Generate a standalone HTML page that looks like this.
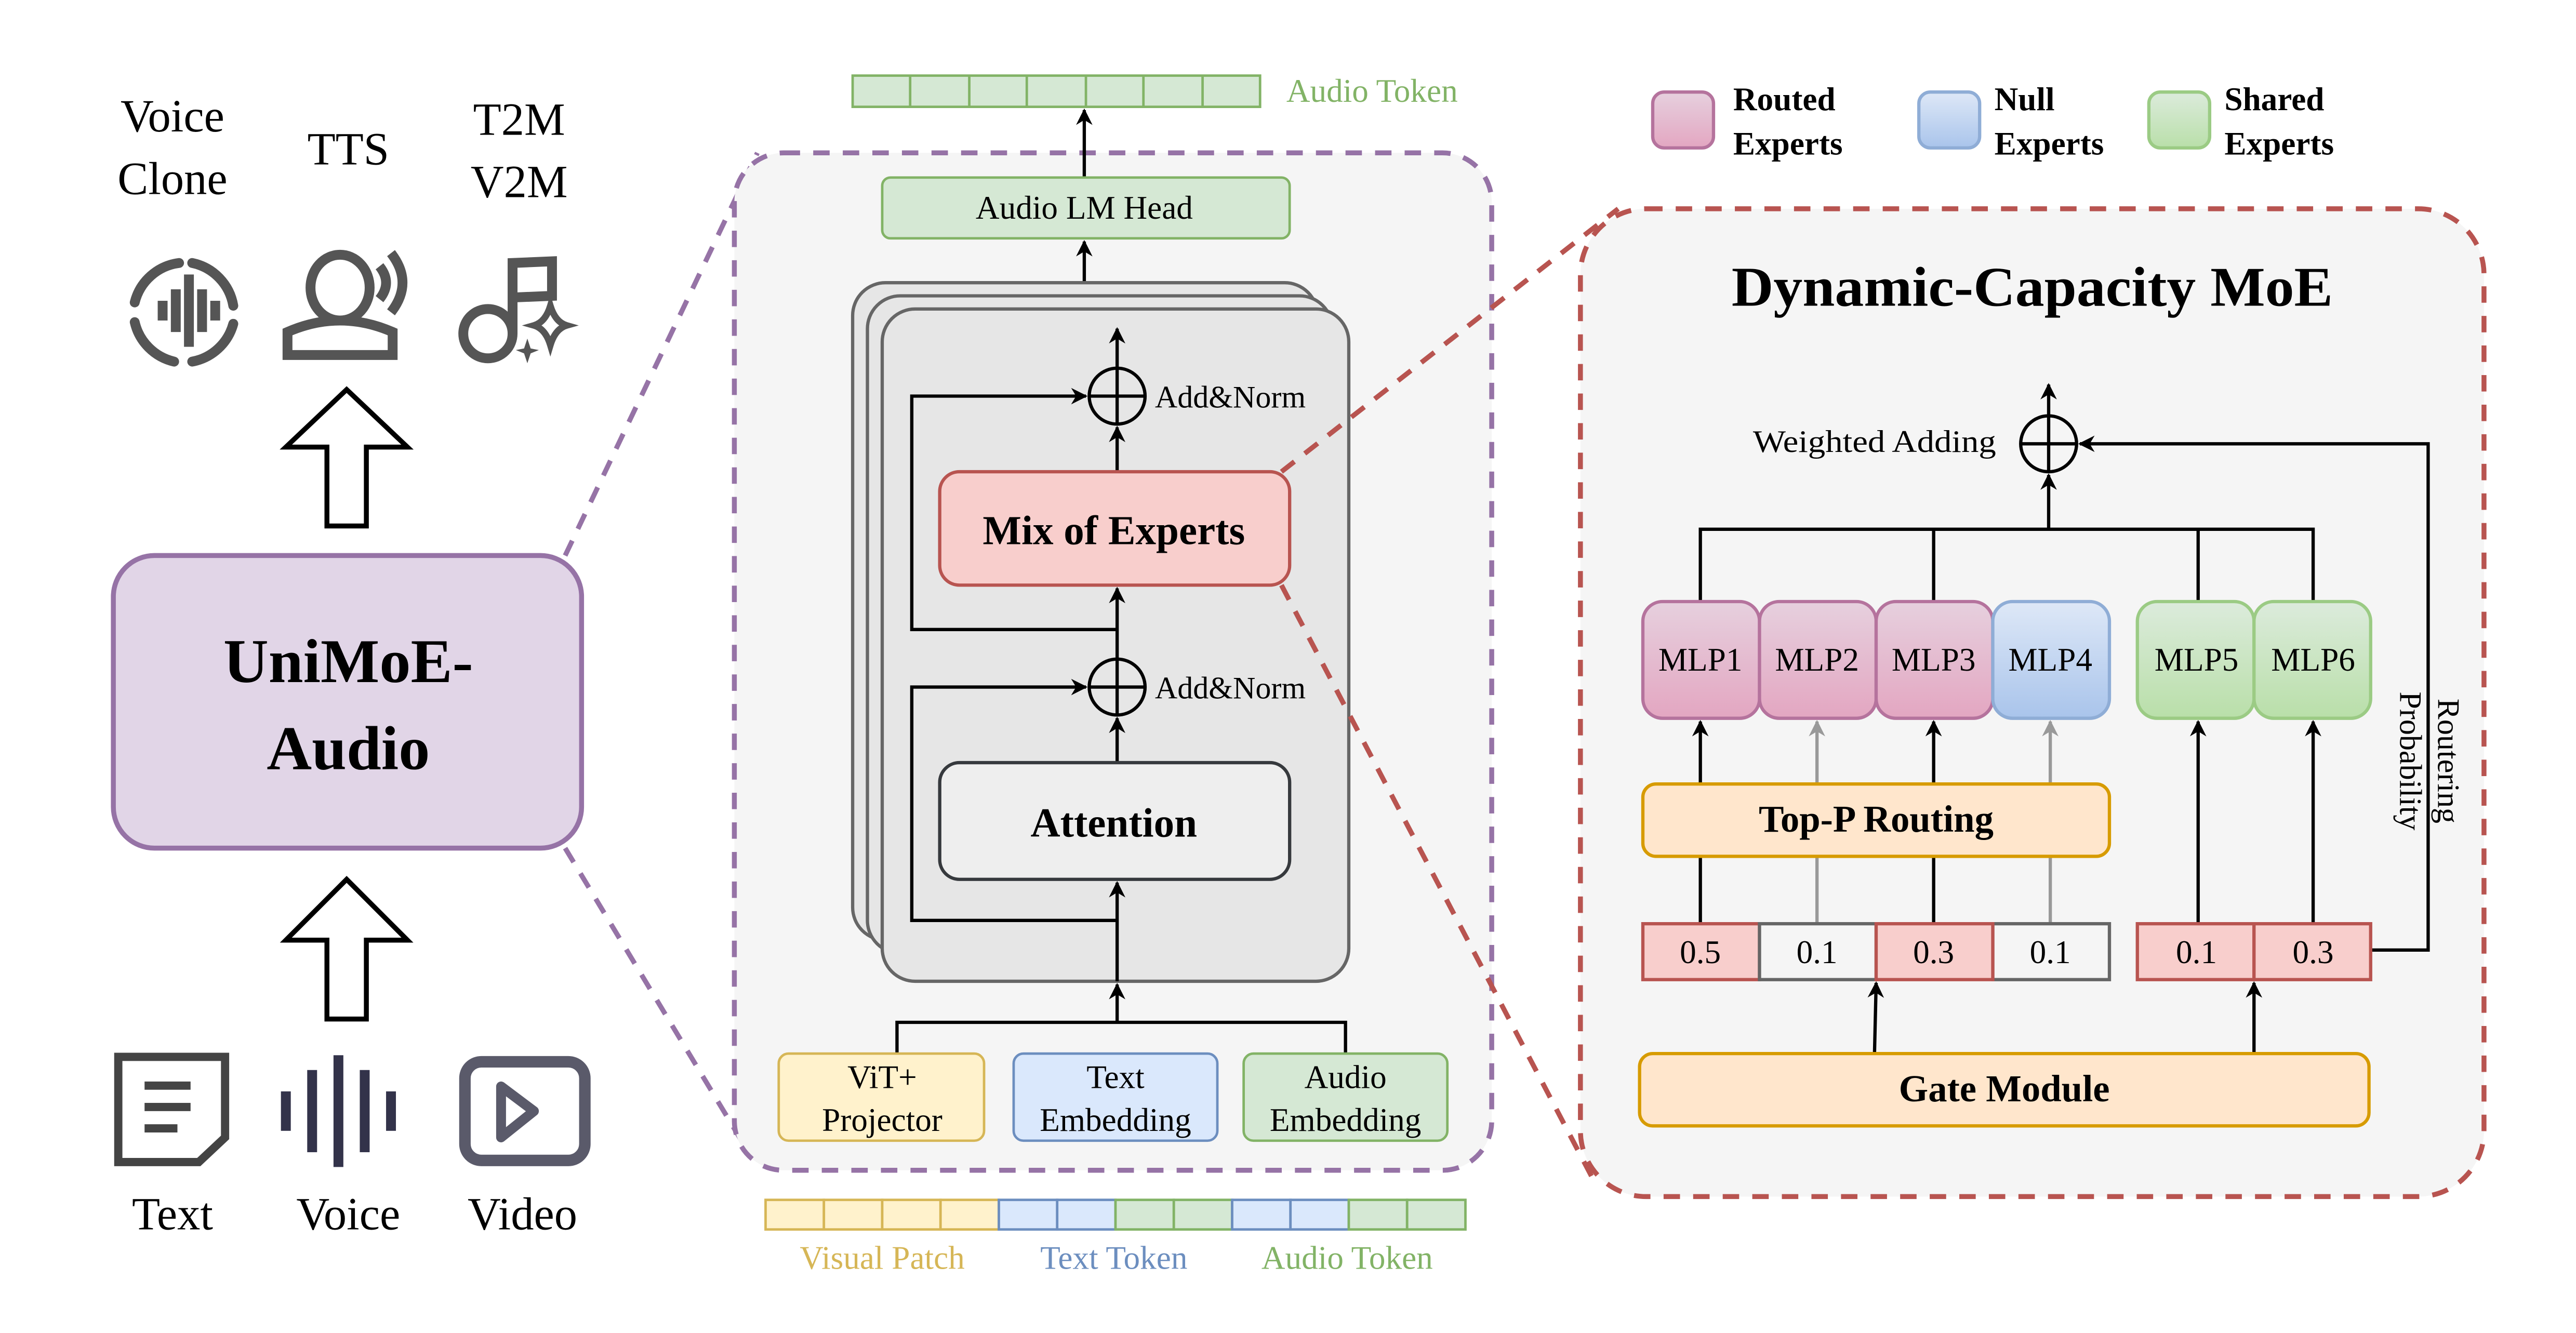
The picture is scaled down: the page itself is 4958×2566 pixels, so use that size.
<!DOCTYPE html>
<html><head><meta charset="utf-8"><style>html,body{margin:0;padding:0;background:#fff}svg{display:block}svg text{font-family:"Liberation Serif","Times New Roman",serif}</style></head>
<body>
<svg xmlns="http://www.w3.org/2000/svg" width="4958" height="2566" viewBox="0 0 1568 811" preserveAspectRatio="none">
<defs>
<marker id="a" markerWidth="10" markerHeight="10" refX="9" refY="5" orient="auto" markerUnits="userSpaceOnUse"><path d="M0,0 L10,5 L0,10 L3,5 z" fill="#000"/></marker>
<marker id="g" markerWidth="10" markerHeight="10" refX="9" refY="5" orient="auto" markerUnits="userSpaceOnUse"><path d="M0,0 L10,5 L0,10 L3,5 z" fill="#999"/></marker>
<linearGradient id="pk" x1="0" y1="0" x2="0" y2="1"><stop offset="0" stop-color="#e6d0de"/><stop offset="1" stop-color="#e3a6c1"/></linearGradient>
<linearGradient id="bl" x1="0" y1="0" x2="0" y2="1"><stop offset="0" stop-color="#dee8f7"/><stop offset="1" stop-color="#a9c4eb"/></linearGradient>
<linearGradient id="gr" x1="0" y1="0" x2="0" y2="1"><stop offset="0" stop-color="#dcebdc"/><stop offset="1" stop-color="#b9dfa9"/></linearGradient>
</defs>
<rect width="1568" height="811" fill="#fff"/>

<g font-size="28" text-anchor="middle" fill="#000">
<text x="105" y="80">Voice</text><text x="105" y="118">Clone</text>
<text x="212" y="100">TTS</text>
<text x="316" y="82">T2M</text><text x="316" y="120">V2M</text>
<text x="105" y="748">Text</text><text x="212" y="748">Voice</text><text x="318" y="748">Video</text>
</g>
<g fill="none" stroke="#555" stroke-width="6" stroke-linecap="round">
<path d="M109,160 A32,32 0 0 0 82,184"/><path d="M117,160 A32,32 0 0 1 142,186"/>
<path d="M82,196 A32,32 0 0 0 106,220"/><path d="M117,220 A32,32 0 0 0 142,197"/>
</g>
<g fill="#555"><rect x="96" y="183" width="6" height="12"/><rect x="104" y="176" width="6" height="26"/><rect x="112" y="167" width="6" height="44"/><rect x="120" y="176" width="6" height="26"/><rect x="128" y="183" width="6" height="12"/></g>
<g fill="none" stroke="#555" stroke-width="6">
<ellipse cx="207" cy="175" rx="18" ry="20"/>
<path d="M175,216 L175,202 Q207,188 239,202 L239,216 Z"/>
<path d="M231,162 Q239,172 231,182"/><path d="M238,154 Q252,172 238,190"/>
<circle cx="297" cy="203" r="15"/><path d="M312,203 L312,160 L336,159 L336,180 L312,181"/>
</g>
<path d="M335,186 Q338,196 345,198 Q338,200 335,210 Q332,200 325,198 Q332,196 335,186 Z" fill="none" stroke="#555" stroke-width="4"/>
<path d="M321,206 L323,212 L328,213 L323,215 L321,221 L319,215 L314,213 L319,212Z" fill="#555"/>
<path d="M199,320 L199,272 L174,272 L211,237 L248,272 L223,272 L223,320 Z" fill="#fff" stroke="#000" stroke-width="3"/>
<path d="M199,620 L199,572 L174,572 L211,535 L248,572 L223,572 L223,620 Z" fill="#fff" stroke="#000" stroke-width="3"/>
<rect x="69" y="338" width="285" height="178" rx="25" fill="#e1d5e7" stroke="#9673a6" stroke-width="3"/>
<text x="212" y="415" font-size="38" font-weight="bold" text-anchor="middle">UniMoE-</text>
<text x="212" y="468" font-size="38" font-weight="bold" text-anchor="middle">Audio</text>
<path d="M72,643 L137,643 L137,692 L121,707 L72,707 Z" fill="none" stroke="#444" stroke-width="5"/>
<g fill="#444"><rect x="88" y="658" width="28" height="5"/><rect x="88" y="671" width="28" height="5"/><rect x="88" y="684" width="20" height="5"/></g>
<g fill="#33334a"><rect x="171" y="664" width="6" height="24"/><rect x="187" y="651" width="6" height="50"/><rect x="203" y="642" width="6" height="68"/><rect x="219" y="651" width="6" height="50"/><rect x="235" y="664" width="6" height="24"/></g>
<rect x="283" y="646" width="73" height="60" rx="10" fill="none" stroke="#5a5a6a" stroke-width="7"/>
<path d="M305,661 L305,692 L325,676 Z" fill="none" stroke="#5a5a6a" stroke-width="6" stroke-linejoin="round"/>

<g stroke="#9673a6" stroke-width="3" stroke-dasharray="10,8" fill="none">
<line x1="344" y1="338" x2="461" y2="93"/><line x1="344" y1="516" x2="455" y2="700"/>
<rect x="447" y="93" width="461" height="619" rx="30" fill="#f5f5f5"/>
</g>

<rect x="519" y="46" width="248" height="19" stroke="#82b366" stroke-width="1.5" fill="#d5e8d4"/>
<g stroke="#82b366" stroke-width="1.5"><line x1="554" y1="46" x2="554" y2="65"/><line x1="590" y1="46" x2="590" y2="65"/><line x1="625" y1="46" x2="625" y2="65"/><line x1="661" y1="46" x2="661" y2="65"/><line x1="696" y1="46" x2="696" y2="65"/><line x1="732" y1="46" x2="732" y2="65"/></g>
<text x="783" y="62" font-size="20" fill="#82b366">Audio Token</text>
<line x1="660" y1="108" x2="660" y2="67" stroke="#000" stroke-width="2" marker-end="url(#a)"/>
<rect x="537" y="108" width="248" height="37" rx="5" fill="#d5e8d4" stroke="#82b366" stroke-width="1.5"/>
<text x="660" y="133" font-size="20" text-anchor="middle">Audio LM Head</text>
<line x1="660" y1="172" x2="660" y2="147" stroke="#000" stroke-width="2" marker-end="url(#a)"/>

<g fill="#e6e6e6" stroke="#666" stroke-width="2">
<rect x="519" y="172" width="283" height="400" rx="20"/>
<rect x="528" y="180" width="283" height="400" rx="20"/>
<rect x="537" y="188" width="284" height="409" rx="20"/>
</g>
<g stroke="#000" stroke-width="2" fill="none">
<line x1="680" y1="622" x2="680" y2="599" marker-end="url(#a)"/>
<line x1="680" y1="597" x2="680" y2="537" marker-end="url(#a)"/>
<line x1="680" y1="464" x2="680" y2="437" marker-end="url(#a)"/>
<line x1="680" y1="401" x2="680" y2="358" marker-end="url(#a)"/>
<line x1="680" y1="287" x2="680" y2="260" marker-end="url(#a)"/>
<line x1="680" y1="224" x2="680" y2="200" marker-end="url(#a)"/>
<path d="M680,560 L555,560 L555,418 L661,418" marker-end="url(#a)"/>
<path d="M680,383 L555,383 L555,241 L661,241" marker-end="url(#a)"/>
<ellipse cx="680" cy="241" rx="17" ry="17" fill="#e6e6e6"/><line x1="663" y1="241" x2="697" y2="241"/><line x1="680" y1="224" x2="680" y2="258"/>
<ellipse cx="680" cy="418" rx="17" ry="17" fill="#e6e6e6"/><line x1="663" y1="418" x2="697" y2="418"/><line x1="680" y1="401" x2="680" y2="435"/>
</g>
<text x="703" y="248" font-size="19">Add&amp;Norm</text>
<text x="703" y="425" font-size="19">Add&amp;Norm</text>
<rect x="572" y="287" width="213" height="69" rx="12" fill="#f8cecc" stroke="#b85450" stroke-width="2"/>
<text x="678" y="331" font-size="25" font-weight="bold" text-anchor="middle">Mix of Experts</text>
<rect x="572" y="464" width="213" height="71" rx="12" fill="#eeeeee" stroke="#36393d" stroke-width="2"/>
<text x="678" y="509" font-size="25" font-weight="bold" text-anchor="middle">Attention</text>

<path d="M546,641 L546,622 L819,622 L819,641" stroke="#000" stroke-width="2" fill="none"/>
<rect x="474" y="641" width="125" height="53" rx="6" fill="#fff2cc" stroke="#d6b656" stroke-width="1.5"/>
<rect x="617" y="641" width="124" height="53" rx="6" fill="#dae8fc" stroke="#6c8ebf" stroke-width="1.5"/>
<rect x="757" y="641" width="124" height="53" rx="6" fill="#d5e8d4" stroke="#82b366" stroke-width="1.5"/>
<g font-size="20" text-anchor="middle"><text x="537" y="662">ViT+</text><text x="537" y="688">Projector</text><text x="679" y="662">Text</text><text x="679" y="688">Embedding</text><text x="819" y="662">Audio</text><text x="819" y="688">Embedding</text></g>

<g stroke-width="1.5">
<rect x="466" y="730" width="35.5" height="18" fill="#fff2cc" stroke="#d6b656"/><rect x="501.5" y="730" width="35.5" height="18" fill="#fff2cc" stroke="#d6b656"/><rect x="537" y="730" width="35.5" height="18" fill="#fff2cc" stroke="#d6b656"/><rect x="572.5" y="730" width="35.5" height="18" fill="#fff2cc" stroke="#d6b656"/>
<rect x="608" y="730" width="35.5" height="18" fill="#dae8fc" stroke="#6c8ebf"/><rect x="643.5" y="730" width="35.5" height="18" fill="#dae8fc" stroke="#6c8ebf"/>
<rect x="679" y="730" width="35.5" height="18" fill="#d5e8d4" stroke="#82b366"/><rect x="714.5" y="730" width="35.5" height="18" fill="#d5e8d4" stroke="#82b366"/>
<rect x="750" y="730" width="35.5" height="18" fill="#dae8fc" stroke="#6c8ebf"/><rect x="785.5" y="730" width="35.5" height="18" fill="#dae8fc" stroke="#6c8ebf"/>
<rect x="821" y="730" width="35.5" height="18" fill="#d5e8d4" stroke="#82b366"/><rect x="856.5" y="730" width="35.5" height="18" fill="#d5e8d4" stroke="#82b366"/>
</g>
<g font-size="20" text-anchor="middle"><text x="537" y="772" fill="#d6b656">Visual Patch</text><text x="678" y="772" fill="#6c8ebf">Text Token</text><text x="820" y="772" fill="#82b366">Audio Token</text></g>

<g stroke="#b85450" stroke-width="3" stroke-dasharray="10,8" fill="none">
<line x1="780" y1="287" x2="985" y2="127"/><line x1="780" y1="356" x2="970" y2="718"/>
<rect x="962" y="127" width="550" height="601" rx="40" fill="#f5f5f5"/>
</g>

<rect x="1006" y="56" width="37" height="34" rx="7" fill="url(#pk)" stroke="#b5739d" stroke-width="2"/>
<rect x="1168" y="56" width="37" height="34" rx="7" fill="url(#bl)" stroke="#8fadd6" stroke-width="2"/>
<rect x="1308" y="56" width="37" height="34" rx="7" fill="url(#gr)" stroke="#9bcb84" stroke-width="2"/>
<g font-size="20" font-weight="bold"><text x="1055" y="67">Routed</text><text x="1055" y="94">Experts</text><text x="1214" y="67">Null</text><text x="1214" y="94">Experts</text><text x="1354" y="67">Shared</text><text x="1354" y="94">Experts</text></g>

<text x="1237" y="186" font-size="34" font-weight="bold" text-anchor="middle" textLength="366" lengthAdjust="spacingAndGlyphs">Dynamic-Capacity MoE</text>
<text x="1215" y="275" font-size="19" text-anchor="end" textLength="148" lengthAdjust="spacingAndGlyphs">Weighted Adding</text>

<g stroke="#000" stroke-width="2" fill="none">
<line x1="1247" y1="253" x2="1247" y2="234" marker-end="url(#a)"/>
<path d="M1035,366 L1035,322 L1408,322 L1408,366"/><line x1="1177" y1="322" x2="1177" y2="366"/><line x1="1338" y1="322" x2="1338" y2="366"/>
<line x1="1247" y1="322" x2="1247" y2="289" marker-end="url(#a)"/>
<path d="M1443,578 L1478,578 L1478,270 L1266,270" marker-end="url(#a)"/>
<circle cx="1247" cy="270" r="17" fill="#f5f5f5"/><line x1="1230" y1="270" x2="1264" y2="270"/><line x1="1247" y1="253" x2="1247" y2="287"/>
<line x1="1035" y1="477" x2="1035" y2="439" marker-end="url(#a)"/>
<line x1="1177" y1="477" x2="1177" y2="439" marker-end="url(#a)"/>
<line x1="1035" y1="562" x2="1035" y2="521"/><line x1="1177" y1="562" x2="1177" y2="521"/>
<line x1="1338" y1="562" x2="1338" y2="439" marker-end="url(#a)"/>
<line x1="1408" y1="562" x2="1408" y2="439" marker-end="url(#a)"/>
<line x1="1141" y1="641" x2="1142" y2="598" marker-end="url(#a)"/>
<line x1="1372" y1="641" x2="1372" y2="598" marker-end="url(#a)"/>
</g>
<g stroke="#999" stroke-width="2"><line x1="1106" y1="477" x2="1106" y2="439" marker-end="url(#g)"/><line x1="1248" y1="477" x2="1248" y2="439" marker-end="url(#g)"/><line x1="1106" y1="562" x2="1106" y2="521"/><line x1="1248" y1="562" x2="1248" y2="521"/></g>

<g stroke-width="2">
<rect x="1000" y="366" width="71" height="71" rx="12" fill="url(#pk)" stroke="#b5739d"/>
<rect x="1071" y="366" width="71" height="71" rx="12" fill="url(#pk)" stroke="#b5739d"/>
<rect x="1142" y="366" width="71" height="71" rx="12" fill="url(#pk)" stroke="#b5739d"/>
<rect x="1213" y="366" width="71" height="71" rx="12" fill="url(#bl)" stroke="#8fadd6"/>
<rect x="1301" y="366" width="71" height="71" rx="12" fill="url(#gr)" stroke="#9bcb84"/>
<rect x="1372" y="366" width="71" height="71" rx="12" fill="url(#gr)" stroke="#9bcb84"/>
</g>
<g font-size="20" text-anchor="middle"><text x="1035" y="408">MLP1</text><text x="1106" y="408">MLP2</text><text x="1177" y="408">MLP3</text><text x="1248" y="408">MLP4</text><text x="1337" y="408">MLP5</text><text x="1408" y="408">MLP6</text></g>

<rect x="1000" y="477" width="284" height="44" rx="8" fill="#ffe6cc" stroke="#d79b00" stroke-width="2"/>
<text x="1142" y="506" font-size="23" font-weight="bold" text-anchor="middle">Top-P Routing</text>

<g stroke-width="2">
<rect x="1000" y="562" width="71" height="34" fill="#f8cecc" stroke="#b85450"/>
<rect x="1071" y="562" width="71" height="34" fill="#f5f5f5" stroke="#666"/>
<rect x="1213" y="562" width="71" height="34" fill="#f5f5f5" stroke="#666"/>
<rect x="1142" y="562" width="71" height="34" fill="#f8cecc" stroke="#b85450"/>
<rect x="1301" y="562" width="71" height="34" fill="#f8cecc" stroke="#b85450"/>
<rect x="1372" y="562" width="71" height="34" fill="#f8cecc" stroke="#b85450"/>
</g>
<g font-size="20" text-anchor="middle"><text x="1035" y="586">0.5</text><text x="1106" y="586">0.1</text><text x="1177" y="586">0.3</text><text x="1248" y="586">0.1</text><text x="1337" y="586">0.1</text><text x="1408" y="586">0.3</text></g>

<rect x="998" y="641" width="444" height="44" rx="8" fill="#ffe6cc" stroke="#d79b00" stroke-width="2"/>
<text x="1220" y="670" font-size="23" font-weight="bold" text-anchor="middle">Gate Module</text>

<g font-size="19" text-anchor="middle">
<text transform="translate(1484,463) rotate(90)">Routering</text>
<text transform="translate(1461,463) rotate(90)">Probability</text>
</g>
</svg>
</body></html>
